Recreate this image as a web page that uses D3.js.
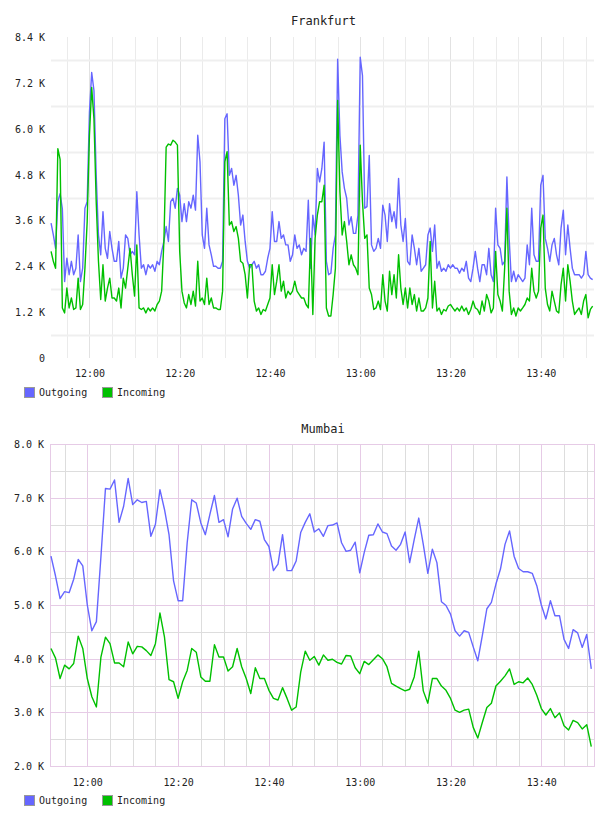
<!DOCTYPE html>
<html>
<head>
<meta charset="utf-8">
<script src="https://d3js.org/d3.v7.min.js"></script>
<style>
body { margin: 0; background: #fff; }
svg text { font-family: "DejaVu Sans Mono", monospace; fill: #222; }
</style>
</head>
<body>
<div id="charts"></div>
<script>
// ---- data (traffic in thousands) ----
var seriesNames = ["Outgoing", "Incoming"];
var seriesColors = ["#6666ff", "#00c000"];
var timeLabels = ["12:00", "12:20", "12:40", "13:00", "13:20", "13:40"];

// Frankfurt: one sample every 30 s from 11:51:30
var frankfurtStart = "11:51:30";
var frankfurtStepSec = 30;
var frankfurtOutgoing = [
  3.53, 3.22, 2.87, 4.09, 4.3, 3.9, 2.0, 2.61, 2.18, 2.53,
  2.18, 2.35, 3.22, 2.0, 2.35, 3.92, 4.09, 6.43, 7.47, 7.0,
  4.78, 3.22, 2.7, 3.83, 2.87, 2.61, 3.31, 2.87, 2.53, 2.53,
  3.05, 2.09, 2.35, 3.22, 3.13, 2.7, 2.79, 2.7, 4.35, 3.22,
  2.35, 2.44, 2.18, 2.44, 2.35, 2.44, 2.27, 2.53, 2.44, 2.79,
  3.05, 3.44, 3.05, 4.09, 4.18, 3.92, 4.44, 4.26, 3.57, 4.04,
  3.57, 4.09, 3.92, 4.26, 3.87, 5.83, 5.13, 3.22, 2.87, 3.92,
  2.96, 2.7, 2.4, 2.4, 2.35, 2.35, 2.53, 6.26, 6.39, 4.78,
  4.96, 4.52, 4.78, 4.26, 3.48, 3.74, 3.05, 2.53, 2.35, 2.44,
  2.53, 2.35, 2.44, 2.18, 2.18, 2.27, 2.61, 2.87, 3.83, 3.05,
  3.05, 3.57, 3.13, 3.22, 2.96, 2.96, 2.53, 2.7, 3.22, 2.87,
  2.96, 2.7, 2.87, 2.79, 4.13, 2.35, 3.74, 3.22, 4.96, 4.61,
  4.96, 5.65, 2.53, 2.18, 2.22, 2.87, 3.22, 7.82, 5.83, 4.87,
  4.44, 4.18, 3.48, 3.7, 3.26, 3.26, 3.74, 7.87, 7.39, 3.92,
  3.96, 5.3, 2.96, 2.79, 2.87, 3.13, 2.87, 4.0, 3.74, 3.05,
  4.04, 3.57, 3.83, 3.4, 4.7, 3.48, 3.05, 3.65, 2.53, 2.44,
  3.22, 2.87, 2.44, 2.87, 2.27, 2.35, 2.44, 3.22, 3.4, 2.79,
  3.48, 2.35, 2.53, 2.27, 2.35, 2.27, 2.44, 2.35, 2.44, 2.35,
  2.35, 2.22, 2.35, 2.27, 2.53, 2.09, 2.0, 2.35, 2.79, 2.35,
  2.0, 2.44, 2.44, 2.18, 2.87, 2.18, 2.0, 3.92, 2.96, 2.87,
  2.44, 2.53, 4.74, 3.13, 2.0, 2.27, 2.0, 2.18, 2.09, 2.0,
  2.09, 2.96, 2.44, 3.92, 2.7, 2.53, 2.53, 4.52, 4.78, 3.13,
  2.87, 2.53, 2.96, 3.13, 2.7, 2.44, 3.4, 3.87, 2.7, 3.48,
  2.87, 2.35, 2.18, 2.18, 2.18, 2.09, 2.18, 2.79, 2.18, 2.09,
  2.05
];
var frankfurtIncoming = [
  2.79, 2.53, 2.35, 5.48, 5.2, 1.31, 1.18, 1.83, 1.31, 1.57,
  1.27, 1.31, 2.09, 1.27, 1.4, 2.35, 3.57, 5.83, 7.08, 6.26,
  4.09, 2.53, 1.53, 2.44, 1.49, 1.83, 2.09, 1.57, 1.57, 1.49,
  1.83, 1.31, 2.09, 1.83, 2.35, 2.87, 2.18, 1.62, 2.96, 1.31,
  1.27, 1.31, 1.18, 1.31, 1.23, 1.31, 1.23, 1.4, 1.49, 1.75,
  3.05, 5.52, 5.6, 5.57, 5.7, 5.65, 5.57, 2.79, 1.75, 1.44,
  1.31, 1.66, 1.4, 1.75, 1.36, 2.53, 1.49, 1.57, 1.4, 2.09,
  1.4, 1.57, 1.31, 1.31, 1.27, 1.27, 1.75, 5.13, 5.4, 3.48,
  3.57, 3.31, 3.44, 3.13, 2.53, 2.48, 2.18, 1.57, 2.44, 2.44,
  1.49, 1.23, 1.31, 1.14, 1.27, 1.23, 1.4, 1.57, 2.44, 1.66,
  2.01, 2.44, 1.75, 2.01, 1.57, 1.75, 1.66, 1.75, 2.01, 1.75,
  1.66, 1.57, 1.57, 1.4, 1.31, 3.13, 1.14, 3.13, 3.74, 4.09,
  4.09, 4.52, 1.31, 1.1, 1.1, 1.66, 2.35, 6.74, 4.35, 3.22,
  3.57, 3.05, 2.44, 2.7, 2.44, 2.35, 2.18, 5.57, 4.09, 3.13,
  3.22, 1.83, 1.66, 1.27, 1.31, 1.49, 1.27, 2.18, 1.49, 1.23,
  2.27, 1.66, 2.18, 1.57, 2.7, 1.83, 1.4, 1.83, 1.31, 1.83,
  1.4, 1.66, 1.23, 1.57, 1.23, 1.23, 1.31, 1.57, 3.05, 1.31,
  2.01, 1.23, 1.31, 1.14, 1.27, 1.23, 1.36, 1.4, 1.31, 1.23,
  1.31, 1.23, 1.36, 1.23, 1.31, 1.14, 1.27, 1.49, 1.31, 1.27,
  1.14, 1.49, 1.23, 1.66, 1.49, 1.18, 1.31, 2.79, 1.66, 1.49,
  1.23, 2.35, 3.92, 1.75, 1.14, 1.31, 1.1, 1.31, 1.23, 1.31,
  1.4, 1.57, 1.49, 2.35, 1.75, 1.57, 1.75, 3.4, 3.74, 1.83,
  1.4, 1.23, 1.75, 1.49, 1.23, 1.18, 1.92, 2.35, 1.49, 2.44,
  2.01, 1.49, 1.14, 1.23, 1.31, 1.14, 1.49, 1.66, 1.05, 1.27,
  1.36
];
var frankfurtTicksY = [0, 1.2, 2.4, 3.6, 4.8, 6.0, 7.2, 8.4];

// Mumbai: one sample every minute from 11:52
var mumbaiStart = "11:52:00";
var mumbaiStepSec = 60;
var mumbaiOutgoing = [
  5.91, 5.54, 5.12, 5.25, 5.23, 5.48, 5.85, 5.73, 5.0, 4.52,
  4.69, 5.9, 7.17, 7.16, 7.33, 6.54, 6.84, 7.36, 6.87, 6.96,
  6.91, 6.93, 6.28, 6.5, 7.15, 6.78, 6.31, 5.45, 5.08, 5.08,
  6.16, 6.96, 6.9, 6.53, 6.31, 6.69, 7.04, 6.54, 6.59, 6.27,
  6.79, 6.99, 6.65, 6.52, 6.41, 6.59, 6.56, 6.22, 6.09, 5.64,
  5.76, 6.31, 5.64, 5.64, 5.82, 6.35, 6.54, 6.7, 6.36, 6.42,
  6.28, 6.48, 6.49, 6.53, 6.16, 6.0, 6.02, 6.17, 5.6, 5.98,
  6.3, 6.31, 6.51, 6.36, 6.33, 6.1, 6.02, 6.13, 6.36, 5.79,
  6.22, 6.62, 6.13, 5.59, 6.04, 5.79, 5.06, 4.99, 4.83, 4.52,
  4.42, 4.52, 4.49, 4.22, 3.96, 4.43, 4.93, 5.05, 5.39, 5.67,
  6.13, 6.38, 5.91, 5.68, 5.62, 5.62, 5.59, 5.36, 5.0, 4.74,
  5.08, 4.8, 4.8, 4.36, 4.19, 4.54, 4.48, 4.21, 4.45, 3.81
];
var mumbaiIncoming = [
  4.19, 4.01, 3.63, 3.88, 3.81, 3.91, 4.42, 4.19, 3.63, 3.29,
  3.1, 4.03, 4.4, 4.28, 3.92, 3.92, 3.85, 4.31, 4.09, 4.23,
  4.22, 4.15, 4.06, 4.28, 4.85, 4.4, 3.61, 3.57, 3.26, 3.57,
  3.78, 4.19, 4.12, 3.66, 3.58, 3.58, 4.26, 4.03, 4.03, 3.77,
  3.85, 4.19, 3.85, 3.63, 3.35, 3.83, 3.63, 3.63, 3.41, 3.26,
  3.23, 3.46, 3.26, 3.04, 3.1, 3.75, 4.14, 3.97, 4.04, 3.88,
  4.07, 3.97, 3.99, 3.93, 3.9, 4.06, 4.05, 3.83, 3.72, 3.95,
  3.89, 3.98, 4.07, 4.0, 3.85, 3.54, 3.49, 3.44, 3.4, 3.43,
  3.66, 4.14, 3.4, 3.17, 3.63, 3.63, 3.49, 3.41, 3.26, 3.04,
  3.0, 3.04, 3.06, 2.72, 2.52, 2.81, 3.09, 3.17, 3.49, 3.58,
  3.68, 3.81, 3.52, 3.57, 3.55, 3.64, 3.52, 3.32, 3.07, 2.95,
  3.07, 2.9, 2.99, 2.75, 2.67, 2.85, 2.81, 2.69, 2.77, 2.36
];
var mumbaiTicksY = [2, 3, 4, 5, 6, 7, 8];

var parseClock = d3.timeParse("%H:%M:%S");

function buildSeries(start, stepSec, values) {
  var t0 = parseClock(start);
  return values.map(function(v, i) {
    return { time: d3.timeSecond.offset(t0, i * stepSec), value: v };
  });
}

/*
 *  TrafficChart - draws one city panel
 */
TrafficChart = function(_svg, _cfg) {
  this.svg = _svg;
  this.cfg = _cfg;
  this.initVis();
}

TrafficChart.prototype.initVis = function() {
  var vis = this, c = vis.cfg;

  vis.g = vis.svg.append("g");

  vis.x = d3.scaleTime()
    .domain([parseClock(c.domainX[0]), parseClock(c.domainX[1])])
    .range([c.left, c.right]);
  vis.y = d3.scaleLinear()
    .domain([c.ticksY[0], c.ticksY[c.ticksY.length - 1]])
    .range([c.bottom, c.top]);

  vis.drawGrid();

  // lines
  var line = d3.line()
    .x(function(d) { return vis.x(d.time); })
    .y(function(d) { return vis.y(d.value); });

  c.series.forEach(function(s, i) {
    vis.g.append("path")
      .datum(s)
      .attr("fill", "none")
      .attr("stroke", seriesColors[i])
      .attr("stroke-width", 1.4)
      .attr("stroke-linejoin", "round")
      .attr("d", line);
  });

  // title
  vis.g.append("text")
    .attr("x", (c.left + c.right) / 2 + 1)
    .attr("y", c.titleY)
    .attr("text-anchor", "middle")
    .style("font-size", "12px")
    .text(c.title);

  // y axis labels
  var yAxis = d3.axisLeft(vis.y)
    .tickValues(c.ticksY)
    .tickSize(0)
    .tickPadding(0)
    .tickFormat(c.formatY);
  vis.g.append("g")
    .attr("class", "y-axis")
    .attr("transform", "translate(" + (c.left - 6) + ",0)")
    .call(yAxis)
    .call(function(g) { g.select(".domain").remove(); })
    .selectAll("text")
    .attr("font-family", null)
    .style("font-size", "10px")
    .attr("dy", "0.35em");

  // x axis labels
  var xTicks = timeLabels.map(function(l) { return parseClock(l + ":00"); });
  var xAxis = d3.axisBottom(vis.x)
    .tickValues(xTicks)
    .tickSize(0)
    .tickPadding(0)
    .tickFormat(d3.timeFormat("%H:%M"));
  vis.g.append("g")
    .attr("class", "x-axis")
    .attr("transform", "translate(0," + c.xLabelY + ")")
    .call(xAxis)
    .call(function(g) { g.select(".domain").remove(); })
    .selectAll("text")
    .attr("font-family", null)
    .style("font-size", "10px")
    .attr("y", 0)
    .attr("dy", "0.35em");

  // legend
  var leg = vis.g.append("g")
    .attr("transform", "translate(24," + c.legendY + ")");
  var item = leg.selectAll("g").data(seriesNames).enter().append("g")
    .attr("transform", function(d, i) { return "translate(" + (i * 78) + ",0)"; });
  item.append("rect")
    .attr("x", 0.5).attr("y", 0.5)
    .attr("width", 10).attr("height", 10)
    .attr("fill", function(d, i) { return seriesColors[i]; })
    .attr("stroke", "#999");
  item.append("text")
    .attr("x", 15)
    .attr("y", 9)
    .style("font-size", "10px")
    .text(function(d) { return d; });
}

TrafficChart.prototype.drawGrid = function() {
  var vis = this, c = vis.cfg;
  var grid = vis.g.append("g").attr("class", "grid");

  var minutes = d3.timeMinute.every(5).range(vis.x.domain()[0], vis.x.domain()[1]);

  grid.selectAll("line.v").data(minutes).enter().append("line")
    .attr("class", "v")
    .attr("x1", function(d) { return Math.round(vis.x(d)) + 0.5; })
    .attr("x2", function(d) { return Math.round(vis.x(d)) + 0.5; })
    .attr("y1", c.top)
    .attr("y2", c.bottom)
    .attr("stroke", function(d) { return d.getMinutes() % 20 == 0 ? c.majorColor : c.minorColor; })
    .attr("stroke-width", 1);

  grid.selectAll("line.h").data(c.gridY).enter().append("line")
    .attr("class", "h")
    .attr("x1", c.left)
    .attr("x2", c.right)
    .attr("y1", function(d) { return Math.round(vis.y(d)) + 0.5; })
    .attr("y2", function(d) { return Math.round(vis.y(d)) + 0.5; })
    .attr("stroke", function(d) { return Number.isInteger(d) && c.frame ? c.majorColor : c.hColor; })
    .attr("stroke-width", c.hWidth);

  if (c.frame) {
    grid.append("rect")
      .attr("x", c.left + 0.5)
      .attr("y", c.top + 0.5)
      .attr("width", c.right - c.left)
      .attr("height", c.bottom - c.top)
      .attr("fill", "none")
      .attr("stroke", c.majorColor);
  }
}

var svg = d3.select("#charts").append("svg")
  .attr("width", 608)
  .attr("height", 816);

new TrafficChart(svg, {
  title: "Frankfurt",
  series: [
    buildSeries(frankfurtStart, frankfurtStepSec, frankfurtOutgoing),
    buildSeries(frankfurtStart, frankfurtStepSec, frankfurtIncoming)
  ],
  domainX: ["11:51:29", "13:51:48"],
  ticksY: frankfurtTicksY,
  gridY: frankfurtTicksY.slice(0, -1).map(function(d) { return d + 0.6; }),
  formatY: function(d) { return d == 0 ? "0" : d3.format(".1f")(d) + " K"; },
  left: 51, right: 594, top: 37, bottom: 358,
  titleY: 25, xLabelY: 373, legendY: 387,
  majorColor: "#e2e2e2", minorColor: "#ebebeb", hColor: "#efefef", hWidth: 2,
  frame: false
});

new TrafficChart(svg, {
  title: "Mumbai",
  series: [
    buildSeries(mumbaiStart, mumbaiStepSec, mumbaiOutgoing),
    buildSeries(mumbaiStart, mumbaiStepSec, mumbaiIncoming)
  ],
  domainX: ["11:51:47", "13:51:36"],
  ticksY: mumbaiTicksY,
  gridY: d3.range(2.5, 8, 0.5),
  formatY: function(d) { return d3.format(".1f")(d) + " K"; },
  left: 50, right: 594, top: 444, bottom: 766,
  titleY: 433, xLabelY: 782, legendY: 795,
  majorColor: "#e6cbe6", minorColor: "#dddddd", hColor: "#dddddd", hWidth: 1,
  frame: true
});
</script>
</body>
</html>
